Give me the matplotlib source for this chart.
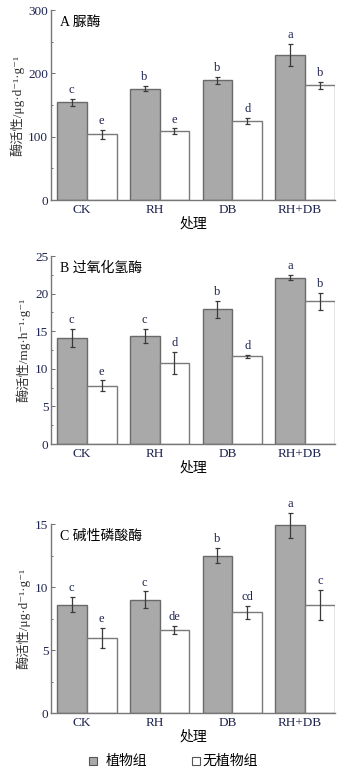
import matplotlib
matplotlib.use("Agg")
import matplotlib.pyplot as plt
import numpy as np
from matplotlib.patches import Rectangle

plt.rcParams['font.family'] = ['Liberation Serif', 'Noto Sans CJK SC', 'DejaVu Sans']

groups = ['CK', 'RH', 'DB', 'RH+DB']

# A 脲酶
a_plant = [154, 176, 189, 229]
a_plant_err = [5.5, 4, 5.5, 17]
a_none = [104, 109, 125, 181]
a_none_err = [7, 4, 5, 5]
a_plant_sig = ['c', 'b', 'b', 'a']
a_none_sig = ['e', 'e', 'd', 'b']

# B 过氧化氢酶
b_plant = [14.1, 14.4, 17.9, 22.1]
b_plant_err = [1.2, 0.9, 1.15, 0.35]
b_none = [7.75, 10.8, 11.7, 19.0]
b_none_err = [0.7, 1.5, 0.2, 1.15]
b_plant_sig = ['c', 'c', 'b', 'a']
b_none_sig = ['e', 'd', 'd', 'b']

# C 碱性磷酸酶
c_plant = [8.6, 9.0, 12.5, 14.9]
c_plant_err = [0.6, 0.65, 0.58, 1.0]
c_none = [5.95, 6.6, 8.0, 8.55]
c_none_err = [0.8, 0.33, 0.5, 1.2]
c_plant_sig = ['c', 'c', 'b', 'a']
c_none_sig = ['e', 'de', 'cd', 'c']

panels = [
    ('A 脲酶', a_plant, a_plant_err, a_none, a_none_err, a_plant_sig, a_none_sig,
     300, 100, '酶活性/μg·d⁻¹·g⁻¹', [0.145, 0.7429, 0.807, 0.2442]),
    ('B 过氧化氢酶', b_plant, b_plant_err, b_none, b_none_err, b_plant_sig, b_none_sig,
     25, 5, '酶活性/mg·h⁻¹·g⁻¹', [0.145, 0.4293, 0.807, 0.2416]),
    ('C 碱性磷酸酶', c_plant, c_plant_err, c_none, c_none_err, c_plant_sig, c_none_sig,
     15, 5, '酶活性/μg·d⁻¹·g⁻¹', [0.145, 0.0835, 0.807, 0.2429]),
]

fig = plt.figure(figsize=(3.52, 7.78), dpi=100)
x = np.arange(len(groups))
w = 0.41
navy = '#1e2450'
spine_c = '#777777'
bar_grey = '#a9a9a9'

for title, p, pe, n, ne, ps, ns, ymax, step, ylab, pos in panels:
    ax = fig.add_axes(pos)
    ax.bar(x - w / 2, p, w, color=bar_grey, edgecolor='#6a6a6a', linewidth=1.0)
    ax.bar(x + w / 2, n, w, color='white', edgecolor='#7a7a7a', linewidth=1.0)
    ax.errorbar(x - w / 2, p, yerr=pe, fmt='none', ecolor='#3a3a3a', elinewidth=0.9, capsize=1.8, capthick=0.9,
                clip_on=False)
    ax.errorbar(x + w / 2, n, yerr=ne, fmt='none', ecolor='#3a3a3a', elinewidth=0.9, capsize=1.8, capthick=0.9,
                clip_on=False)
    for i in range(len(groups)):
        ax.annotate(ps[i], (x[i] - w / 2, p[i] + pe[i]), xytext=(0, 2), textcoords='offset points',
                    ha='center', va='bottom', fontsize=9, color=navy, annotation_clip=False)
        ax.annotate(ns[i], (x[i] + w / 2, n[i] + ne[i]), xytext=(0, 2), textcoords='offset points',
                    ha='center', va='bottom', fontsize=9, color=navy, annotation_clip=False)
    ax.set_xlim(-0.49, 3.41)
    ax.set_ylim(0, ymax)
    ax.set_yticks(np.arange(0, ymax + step / 2, step))
    ax.set_yticks(np.arange(0, ymax, step / 2), minor=True)
    ax.set_xticks(x - 0.07)
    ax.set_xticklabels(groups)
    ax.tick_params(axis='y', direction='in', length=3, width=0.6, color='#555555', labelsize=9.5, pad=2, labelcolor=navy)
    ax.tick_params(axis='y', which='minor', direction='in', length=1.5, width=0.6, color='#555555')
    ax.tick_params(axis='x', length=0, labelsize=9.5, pad=3, labelcolor=navy)
    for s in ['top', 'right']:
        ax.spines[s].set_visible(False)
    for s in ['left', 'bottom']:
        ax.spines[s].set_color(spine_c)
        ax.spines[s].set_linewidth(1.0)
    ax.set_xlabel('处理', fontsize=10, labelpad=1)
    ax.set_ylabel(ylab, fontsize=9.5, labelpad=3, color='#333333')
    ax.text(0.03, 0.97, title, transform=ax.transAxes, ha='left', va='top', fontsize=10)

# legend at the bottom
fig.patches.append(Rectangle((89 / 352, 1 - 765 / 778), 8 / 352, 8 / 778, transform=fig.transFigure,
                             facecolor=bar_grey, edgecolor='#555555', linewidth=0.8))
fig.text(106 / 352, 1 - 761 / 778, '植物组', ha='left', va='center', fontsize=10)
fig.patches.append(Rectangle((192 / 352, 1 - 765 / 778), 8 / 352, 8 / 778, transform=fig.transFigure,
                             facecolor='white', edgecolor='#555555', linewidth=0.8))
fig.text(202 / 352, 1 - 761 / 778, '无植物组', ha='left', va='center', fontsize=10)

fig.savefig('out.png', dpi=100)
